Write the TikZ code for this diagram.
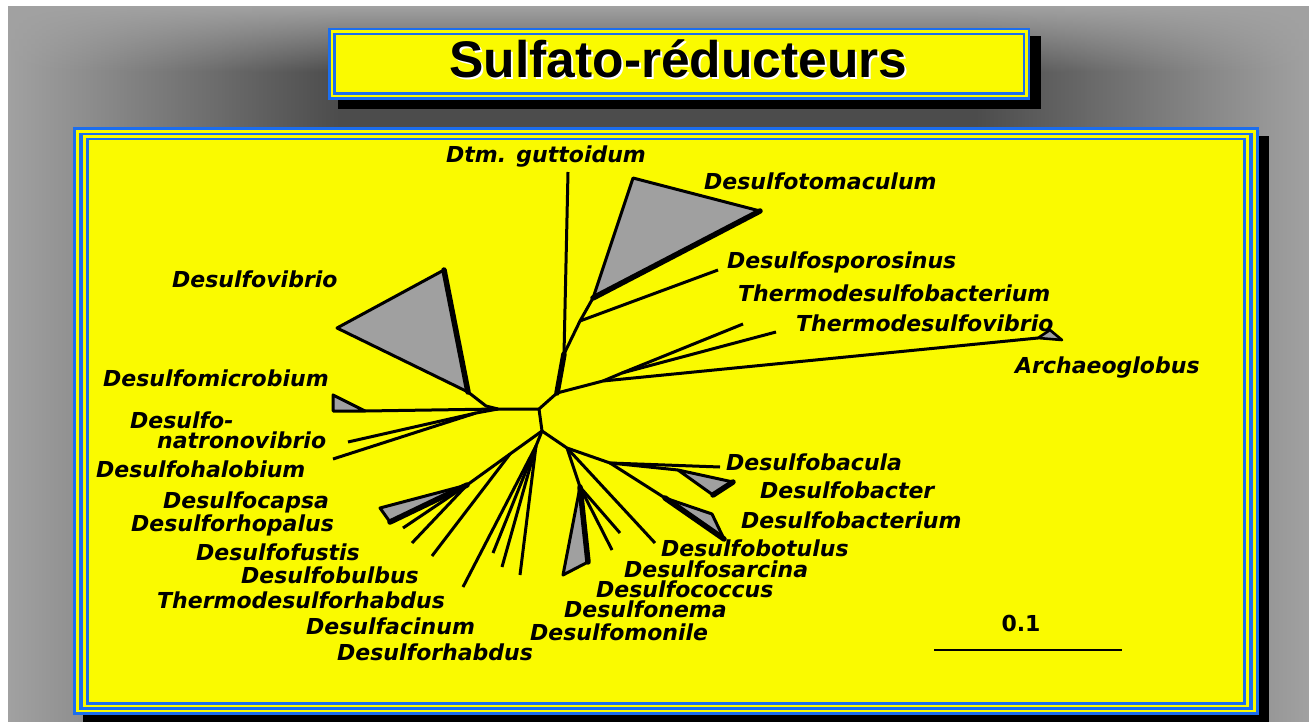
\documentclass[tikz,border=0pt]{standalone}
\usepackage{fontspec}
\usetikzlibrary{fadings}
\newfontfamily\labfont{DejaVu Sans Bold Oblique}
\newfontfamily\numfont{DejaVu Sans Bold}
\newfontfamily\titlefont{Liberation Sans Bold}
\definecolor{bgdark}{RGB}{76,76,76}
\definecolor{bglight}{RGB}{162,162,162}
\definecolor{ylw}{RGB}{250,250,0}
\definecolor{blu}{RGB}{28,110,238}
\definecolor{trigray}{RGB}{160,160,160}
\tikzfading[name=fadeR, left color=transparent!0, right color=transparent!100]
\tikzfading[name=fadeL, left color=transparent!100, right color=transparent!0]
\tikzfading[name=fadeD, top color=transparent!0, bottom color=transparent!100]
\begin{document}
\begin{tikzpicture}[x=1pt,y=-1pt,
  br/.style={line width=3pt, line join=round},
  thk/.style={line width=5.5pt, line join=round, line cap=round},
  tri/.style={fill=trigray, draw=black, line width=3pt, line join=round},
  lab/.style={anchor=base west, inner sep=0pt, font=\labfont\fontsize{22}{24}\selectfont}]
\useasboundingbox (0,0) rectangle (1309,722);
\fill[white] (0,0) rectangle (1309,722);
% background
\fill[bgdark] (8,6) rectangle (1309,722);
\fill[bglight, path fading=fadeR] (8,6) rectangle (340,722);
\fill[bglight, path fading=fadeL] (975,6) rectangle (1309,722);
\fill[bglight, path fading=fadeD] (8,6) rectangle (1309,72);
% title box
\fill[black] (338,36) rectangle (1041,109);
\fill[blu] (328,28) rectangle (1030,100);
\fill[ylw] (330.5,30.5) rectangle (1027.5,97.5);
\fill[blu] (333,33) rectangle (1025,95);
\fill[ylw] (335.5,35.5) rectangle (1022.5,92.5);
\node[anchor=base, inner sep=0pt, text=white, font=\titlefont\fontsize{51.5}{56}\selectfont] (titleshadow) at (680.5,80) {Sulfato-réducteurs};
\node[anchor=base, inner sep=0pt, text=black, font=\titlefont\fontsize{51.5}{56}\selectfont] (title) at (678.5,78) {Sulfato-réducteurs};
% main panel
\fill[black] (83,136) rectangle (1269,730);
\fill[blu] (73,127.5) rectangle (1259,715);
\fill[ylw] (76.2,130.1) rectangle (1255.8,712.4);
\fill[blu] (79.4,132.7) rectangle (1252.6,709.8);
\fill[ylw] (82.6,135.3) rectangle (1249.4,707.2);
\fill[blu] (85.8,137.9) rectangle (1246.2,704.6);
\fill[ylw] (89,140.5) rectangle (1243,702);
% tree coordinates
\coordinate (c1) at (498,409);
\coordinate (c2) at (539,409);
\coordinate (c3) at (557,393);
\coordinate (c4) at (542,431);
\coordinate (u1) at (564,354);
\coordinate (dtmE) at (568,172);
\coordinate (u2) at (580,321);
\coordinate (sporE) at (718,270);
\coordinate (tomA) at (593,298);
\coordinate (tomB) at (633,178);
\coordinate (tomC) at (760,211);
\coordinate (r1) at (603,381);
\coordinate (r2) at (622,373);
\coordinate (tdbE) at (743,324);
\coordinate (tdvE) at (776,332);
\coordinate (arcA) at (1038,338);
\coordinate (arcB) at (1050,330);
\coordinate (arcC) at (1062,340);
\coordinate (l1) at (486,406);
\coordinate (vibA) at (468,392);
\coordinate (vibB) at (444,270);
\coordinate (vibC) at (337,328);
\coordinate (micA) at (365,411);
\coordinate (micB) at (333,395);
\coordinate (micC) at (333,411);
\coordinate (l2) at (476,413);
\coordinate (natE) at (348,442);
\coordinate (halE) at (333,459);
\coordinate (b1) at (510,454);
\coordinate (bulE) at (432,556);
\coordinate (b2) at (467,485);
\coordinate (capB) at (380,508);
\coordinate (capC) at (390,522);
\coordinate (rhoE) at (403,528);
\coordinate (fusE) at (412,543);
\coordinate (b3) at (536,446);
\coordinate (thrE) at (463,587);
\coordinate (acE) at (493,553);
\coordinate (rhbE) at (502,567);
\coordinate (monE) at (520,575);
\coordinate (d1) at (567,448);
\coordinate (d2) at (610,463);
\coordinate (bacE) at (720,467);
\coordinate (bterA) at (678,470);
\coordinate (bterB) at (733,482);
\coordinate (bterC) at (713,495);
\coordinate (btmA) at (665,498);
\coordinate (btmB) at (712,514);
\coordinate (btmC) at (724,539);
\coordinate (botE) at (655,543);
\coordinate (d4) at (580,487);
\coordinate (sarE) at (620,533);
\coordinate (cocE) at (612,550);
\coordinate (nemB) at (563,575);
\coordinate (nemC) at (588,562);
% centre
\draw[br] (c1)--(c2)--(c3);
\draw[br] (c2)--(c4);
% upper
\draw[thk] (c3)--(u1);
\draw[br] (u1)--(dtmE);
\draw[br] (u1)--(u2)--(sporE);
\draw[br] (u2)--(tomA);
\filldraw[tri] (tomA)--(tomB)--(tomC)--cycle;
\draw[thk] (tomA)--(tomC);
% right
\draw[br] (c3)--(r1)--(arcA);
\draw[br] (r1)--(r2)--(tdbE);
\draw[br] (r2)--(tdvE);
\filldraw[tri, line width=2.6pt] (arcA)--(arcB)--(arcC)--cycle;
% left
\draw[br] (c1)--(l1)--(vibA);
\filldraw[tri] (vibA)--(vibB)--(vibC)--cycle;
\draw[thk] (vibB)--(vibA);
\draw[br] (c1)--(micA);
\filldraw[tri] (micA)--(micB)--(micC)--cycle;
\draw[br] (c1)--(l2)--(natE);
\draw[br] (l2)--(halE);
% bottom left
\draw[br] (c4)--(b1)--(b2);
\draw[br] (b1)--(bulE);
\filldraw[tri] (b2)--(capB)--(capC)--cycle;
\draw[thk] (capC)--(b2);
\draw[br] (b2)--(rhoE);
\draw[br] (b2)--(fusE);
% bottom centre
\draw[br] (c4)--(b3);
\draw[br] (b3)--(thrE);
\draw[br] (b3)--(acE);
\draw[br] (b3)--(rhbE);
\draw[br] (b3)--(monE);
% bottom right
\draw[br] (c4)--(d1)--(d2)--(bacE);
\draw[br] (d2)--(bterA);
\filldraw[tri] (bterA)--(bterB)--(bterC)--cycle;
\draw[thk] (bterC)--(bterB);
\draw[br] (d2)--(btmA);
\filldraw[tri] (btmA)--(btmB)--(btmC)--cycle;
\draw[thk] (btmA)--(btmC);
\draw[br] (d1)--(botE);
\draw[br] (d1)--(d4);
\draw[br] (d4)--(sarE);
\draw[br] (d4)--(cocE);
\filldraw[tri] (d4)--(nemB)--(nemC)--cycle;
\draw[thk] (d4)--(nemC);
% labels
\node[lab] (Ldtm) at (446,163) {Dtm. guttoidum};
\node[lab] (Ltom) at (704,190) {Desulfotomaculum};
\node[lab] (Lspo) at (727,269) {Desulfosporosinus};
\node[lab] (Ltdb) at (738,301) {Thermodesulfobacterium};
\node[lab] (Ltdv) at (796,331) {Thermodesulfovibrio};
\node[lab] (Larc) at (1015,373) {Archaeoglobus};
\node[lab] (Lvib) at (172,287) {Desulfovibrio};
\node[lab] (Lmic) at (103,386) {Desulfomicrobium};
\node[lab] (Lnat1) at (130,428) {Desulfo-};
\node[lab] (Lnat2) at (157,448) {natronovibrio};
\node[lab] (Lhal) at (96,477) {Desulfohalobium};
\node[lab] (Lcap) at (163,508) {Desulfocapsa};
\node[lab] (Lrho) at (131,531) {Desulforhopalus};
\node[lab] (Lfus) at (196,560) {Desulfofustis};
\node[lab] (Lbul) at (241,583) {Desulfobulbus};
\node[lab] (Lthr) at (157,608) {Thermodesulforhabdus};
\node[lab] (Lacn) at (306,634) {Desulfacinum};
\node[lab] (Lrhb) at (337,660) {Desulforhabdus};
\node[lab] (Lmon) at (530,640) {Desulfomonile};
\node[lab] (Lnem) at (564,617) {Desulfonema};
\node[lab] (Lcoc) at (596,597) {Desulfococcus};
\node[lab] (Lsar) at (624,577) {Desulfosarcina};
\node[lab] (Lbot) at (661,556) {Desulfobotulus};
\node[lab] (Lbtm) at (741,528) {Desulfobacterium};
\node[lab] (Lbtr) at (760,498) {Desulfobacter};
\node[lab] (Lbac) at (726,470) {Desulfobacula};
% scale bar
\coordinate (sbL) at (934,650);
\coordinate (sbR) at (1122,650);
\draw[line width=2.5pt] (sbL)--(sbR);
\node[anchor=base, inner sep=0pt, font=\numfont\fontsize{22}{24}\selectfont] (scale) at (1021,631) {0.1};
\end{tikzpicture}
\end{document}
